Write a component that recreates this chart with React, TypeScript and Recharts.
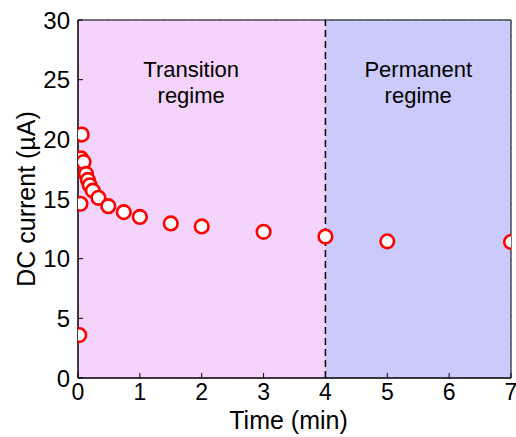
import {
  ScatterChart,
  Scatter,
  XAxis,
  YAxis,
  CartesianGrid,
  ReferenceArea,
  ReferenceLine,
  ReferenceDot,
  Label,
} from "recharts";

// measured DC current after switch-on
const timeMin = [0.02, 0.04, 0.05, 0.06, 0.09, 0.13, 0.16, 0.19, 0.24, 0.33, 0.49, 0.74, 1, 1.5, 2, 3, 4, 5, 7];
const currentUA = [3.6, 14.6, 18.4, 20.4, 18.1, 17.1, 16.6, 16.15, 15.7, 15.1, 14.4, 13.9, 13.5, 12.95, 12.7, 12.25, 11.85, 11.45, 11.4];

const xTicks = [0, 1, 2, 3, 4, 5, 6, 7];
const yTicks = [0, 5, 10, 15, 20, 25, 30];

// regimes: [start, end] in minutes and where the caption sits
const regimeNames = [["Transition", "regime"], ["Permanent", "regime"]];
const regimeStart = [0, 4];
const regimeEnd = [4, 7];
const captionX = [1.83, 5.5];
const captionY = 25.2;
const regimeColors = ["#f5d4fb", "#cbcbfb"];

const points = timeMin.map((t, i) => ({ t, i: currentUA[i] }));

const font = "'Liberation Sans', Arial, sans-serif";

function Marker(props: any) {
  return <circle cx={props.cx} cy={props.cy} r={6.8} fill="#fff" stroke="#ff0000" strokeWidth={2.6} />;
}

export default function App() {
  return (
    <div style={{ position: "fixed", left: 0, top: 0, width: 516, height: 437, background: "#fff" }}>
      <ScatterChart
        width={516}
        height={437}
        margin={{ top: 20, right: 5, left: 0, bottom: 0 }}
        style={{ fontFamily: font }}
      >
        {regimeStart.map((s, k) => (
          <ReferenceArea
            key={k}
            x1={s}
            x2={regimeEnd[k]}
            y1={0}
            y2={30}
            fill={regimeColors[k]}
            fillOpacity={1}
            stroke="none"
          />
        ))}
        <CartesianGrid stroke="#c4c4c4" strokeDasharray="4 3" ticks={xTicks} />
        <XAxis
          type="number"
          dataKey="t"
          domain={[0, 7]}
          ticks={xTicks}
          allowDataOverflow
          height={59}
          tickSize={-5}
          tickMargin={11}
          tickLine={{ stroke: "#000" }}
          axisLine={{ stroke: "#000" }}
          tick={{ fill: "#000", fontSize: 23 }}
          interval={0}
        >
          <Label
            value="Time (min)"
            position="insideBottom"
            offset={8}
            dx={-6}
            style={{ fontSize: 25, fill: "#000" }}
          />
        </XAxis>
        <YAxis
          type="number"
          dataKey="i"
          domain={[0, 30]}
          ticks={yTicks}
          allowDataOverflow
          width={78}
          tickSize={-5}
          tickMargin={13}
          tickLine={{ stroke: "#000" }}
          axisLine={{ stroke: "#000" }}
          tick={{ fill: "#000", fontSize: 24 }}
          interval={0}
        >
          <Label
            value="DC current (µA)"
            position="center"
            angle={-90}
            dx={-13}
            style={{ fontSize: 25, fill: "#000", textAnchor: "middle" }}
          />
        </YAxis>
        <ReferenceLine x={4} stroke="#000" strokeWidth={1.5} strokeDasharray="7 4" />
        <ReferenceArea x1={0} x2={7} y1={0} y2={30} fill="none" stroke="#000" strokeWidth={1} />
        {regimeNames.map((lines, k) => (
          <ReferenceDot
            key={k}
            x={captionX[k]}
            y={captionY}
            r={0}
            fill="none"
            stroke="none"
            label={(p: any) => {
              const vb = p.viewBox;
              return (
                <text x={vb.x} y={vb.y} textAnchor="middle" fill="#000" fontSize={22} fontFamily={font}>
                  {lines.map((l, j) => (
                    <tspan key={j} x={vb.x} dy={j === 0 ? 0 : 26}>
                      {l}
                    </tspan>
                  ))}
                </text>
              );
            }}
          />
        ))}
        <Scatter data={points} shape={<Marker />} isAnimationActive={false} />
      </ScatterChart>
    </div>
  );
}
